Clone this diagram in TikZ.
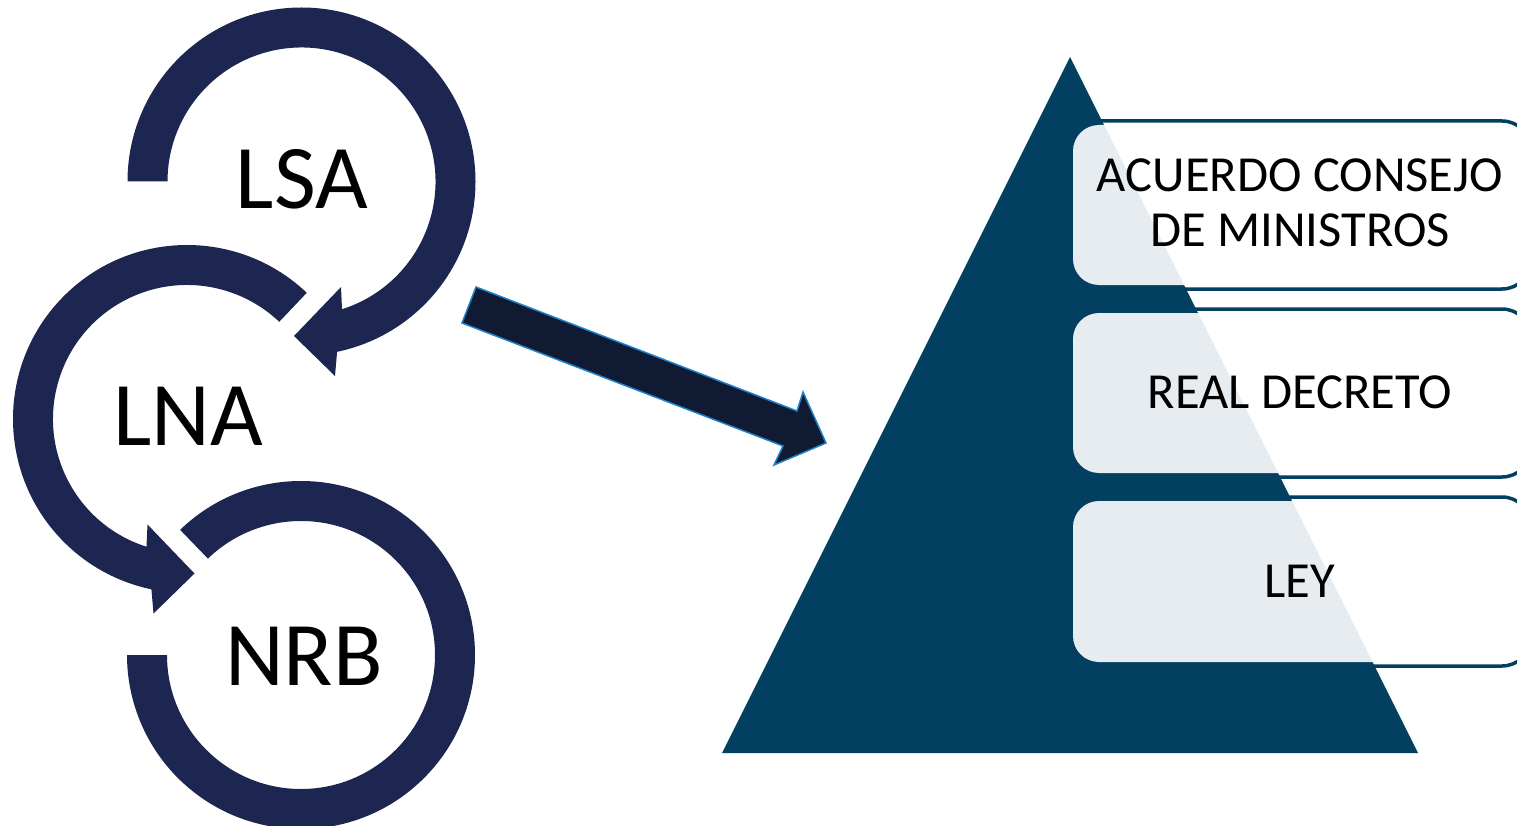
\documentclass[tikz,border=0pt]{standalone}
\usepackage{fontspec}
\setmainfont{Carlito}
\definecolor{navy}{RGB}{29,37,81}
\definecolor{pyr}{RGB}{3,63,96}
\definecolor{bigarrow}{RGB}{17,26,51}
\definecolor{arrowedge}{RGB}{30,130,200}
\tikzset{
  ringarrow/.style={fill=navy},
  ringlabel/.style={anchor=base, font=\fontsize{91}{91}\selectfont},
  boxframe/.style={draw=pyr, line width=3.5pt, rounded corners=29pt},
  boxfill/.style={fill=white, fill opacity=0.9, rounded corners=26pt},
  boxlabel/.style={anchor=base, font=\fontsize{50.5}{55}\selectfont},
}
\begin{document}
\begin{tikzpicture}[x=1pt,y=-1pt]
\useasboundingbox (0,0) rectangle (1517,826);
\clip (0,0) rectangle (1517,826);

% ---- circular arrows ----
% LSA: clockwise ring ending in an arrow head at lower right
\fill[ringarrow, shift={(301.5,181.5)}]
  (180:174) arc[start angle=180, end angle=438.2, radius=174]
  -- (33.5,194.5) -- (-7.5,154.5) -- (39.5,105.5)
  -- (432.4:134) arc[start angle=432.4, end angle=180, radius=134] -- cycle;
% LNA: counter-clockwise ring ending in an arrow head at lower right
\fill[ringarrow, shift={(187,419)}]
  (-46.5:174) arc[start angle=-46.5, end angle=-258.2, radius=174]
  -- (-33.5,194.5) -- (7.5,154.5) -- (-39.5,105.5)
  -- (-252.4:134) arc[start angle=-252.4, end angle=-46.5, radius=134] -- cycle;
% NRB: clockwise ring without head
\fill[ringarrow, shift={(301,655)}]
  (226:174) arc[start angle=226, end angle=540, radius=174]
  -- (540:134) arc[start angle=540, end angle=226, radius=134] -- cycle;

\node[ringlabel] (lsa) at (302,209) {LSA};
\node[ringlabel] (lna) at (188,445) {LNA};
\node[ringlabel] (nrb) at (304,685) {NRB};

% ---- block arrow ----
\draw[fill=bigarrow, draw=arrowedge, line width=1.5pt, line join=miter]
  (476,287) -- (797,411) -- (803,392) -- (826,443) -- (774,465)
  -- (783,446) -- (462,323) -- cycle;

% ---- pyramid ----
\fill[pyr] (1070,57) -- (1418,753) -- (722,753) -- cycle;

% ---- list boxes ----
\draw[boxframe] (1069,121) rectangle (1531,289);
\draw[boxframe] (1069,309) rectangle (1531,477);
\draw[boxframe] (1069,497) rectangle (1531,666);
\fill[boxfill] (1073,125) rectangle (1527,285);
\fill[boxfill] (1073,313) rectangle (1527,473);
\fill[boxfill] (1073,501) rectangle (1527,662);

\node[boxlabel] (acm1) at (1300,192) {ACUERDO CONSEJO};
\node[boxlabel] (acm2) at (1300,247) {DE MINISTROS};
\node[boxlabel] (rd) at (1300,408) {REAL DECRETO};
\node[boxlabel] (ley) at (1300,597) {LEY};
\end{tikzpicture}
\end{document}
